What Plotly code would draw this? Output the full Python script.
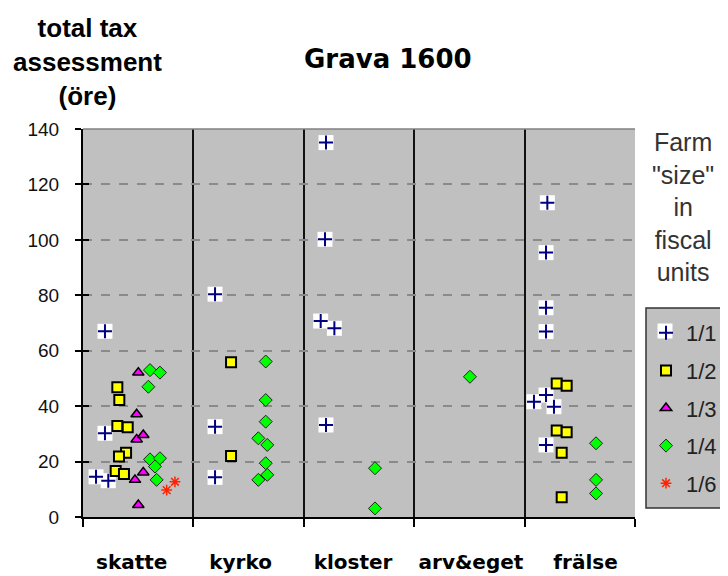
import plotly.graph_objects as go

# ---- data (x = category index + position within the category band) ----
categories = ["skatte", "kyrko", "kloster", "arv&eget", "frälse"]
label_pos = [0.441, 1.427, 2.446, 3.514, 4.552]
series_names = ["1/1", "1/2", "1/3", "1/4", "1/6"]

x_1_1 = [0.199, 0.199, 0.118, 0.229,
         1.196, 1.196, 1.196,
         2.201, 2.192, 2.153, 2.277, 2.201,
         4.206, 4.194, 4.194, 4.194, 4.194, 4.085, 4.266, 4.194]
y_1_1 = [67.0, 30.2, 14.5, 13.1,
         80.4, 32.6, 14.3,
         135.1, 100.2, 70.7, 68.1, 33.2,
         113.4, 95.4, 75.5, 66.9, 44.0, 41.6, 39.8, 26.0]

x_1_2 = [0.311, 0.329, 0.311, 0.405, 0.390, 0.326, 0.296, 0.371,
         1.341, 1.341,
         4.291, 4.381, 4.291, 4.381, 4.336, 4.336]
y_1_2 = [46.8, 42.2, 32.8, 32.4, 23.2, 21.8, 16.6, 15.5,
         55.8, 22.0,
         48.2, 47.4, 31.2, 30.6, 23.2, 7.1]

x_1_3 = [0.501, 0.486, 0.486, 0.546, 0.546, 0.471, 0.501]
y_1_3 = [52.1, 37.1, 28.0, 29.6, 16.1, 13.4, 4.3]

x_1_4 = [0.607, 0.697, 0.592, 0.607, 0.697, 0.652, 0.667,
         1.655, 1.655, 1.655, 1.588, 1.669, 1.655, 1.669, 1.588,
         2.645, 2.645,
         3.505,
         4.647, 4.647, 4.647]
y_1_4 = [53.0, 52.1, 47.0, 20.8, 21.2, 18.2, 13.4,
         56.1, 42.2, 34.4, 28.4, 26.0, 19.4, 15.2, 13.4,
         17.6, 3.1,
         50.6,
         26.6, 13.4, 8.5]

x_1_6 = [0.833, 0.758]
y_1_6 = [12.7, 9.7]

y_ticks = [0, 20, 40, 60, 80, 100, 120, 140]

# ---- layout geometry (page pixels; the page body has an 8px margin) ----
OFF = 8
W, H = 728 - OFF, 576 - OFF
L, R, T, B = 83, 635, 129, 517   # plot area in page pixels


def px(xp):
    return (xp - L) / (R - L)


def py(yp):
    return (B - yp) / (B - T)


fig = go.Figure()

# white boxes behind the 1/1 crosses
fig.add_trace(go.Scatter(x=x_1_1, y=y_1_1, mode="markers", showlegend=False,
                         hoverinfo="skip",
                         marker=dict(symbol="square", size=15, color="white",
                                     line=dict(width=0))))
fig.add_trace(go.Scatter(x=x_1_1, y=y_1_1, mode="markers", name=series_names[0],
                         legendgroup="a",
                         marker=dict(symbol="cross-thin", size=10,
                                     line=dict(color="#000080", width=2))))
fig.add_trace(go.Scatter(x=x_1_2, y=y_1_2, mode="markers", name=series_names[1],
                         legendgroup="b",
                         marker=dict(symbol="square", size=10, color="#ffff00",
                                     line=dict(color="black", width=2))))
fig.add_trace(go.Scatter(x=x_1_3, y=y_1_3, mode="markers", name=series_names[2],
                         legendgroup="c",
                         marker=dict(symbol="triangle-up", size=10, color="#ff00ff",
                                     line=dict(color="black", width=1.5))))
fig.add_trace(go.Scatter(x=x_1_4, y=y_1_4, mode="markers", name=series_names[3],
                         legendgroup="d",
                         marker=dict(symbol="diamond", size=10, color="#00ff00",
                                     line=dict(color="#222222", width=1))))
fig.add_trace(go.Scatter(x=x_1_6, y=y_1_6, mode="markers", name=series_names[4],
                         legendgroup="e",
                         marker=dict(symbol="asterisk", size=9,
                                     line=dict(color="#ff2200", width=1.5))))
# empty trace so the overlay axis (inner tick marks) is drawn
fig.add_trace(go.Scatter(x=[], y=[], yaxis="y2", showlegend=False,
                         hoverinfo="skip"))

shapes = [
    # top border of plot area
    dict(type="line", xref="paper", yref="paper", x0=0, x1=1, y0=1, y1=1,
         line=dict(color="#808080", width=1.5)),
    # legend box
    dict(type="rect", xref="paper", yref="paper", x0=px(646), x1=px(760),
         y0=py(508), y1=py(308), fillcolor="#c0c0c0",
         line=dict(color="#333333", width=1.5), layer="below"),
    # white key box for 1/1
    dict(type="rect", xref="paper", yref="paper", x0=px(657.5), x1=px(672.5),
         y0=py(338.5), y1=py(323.5), fillcolor="white",
         line=dict(width=0), layer="below"),
]

annotations = [
    dict(text="<b>Grava 1600</b>", x=px(387.5), y=py(59), xref="paper", yref="paper",
         showarrow=False, xanchor="center", yanchor="middle",
         font=dict(family="DejaVu Sans", size=26, color="black")),
    dict(text="<b>total tax<br>assessment<br>(öre)</b>", x=px(87), y=py(62),
         xref="paper", yref="paper", showarrow=False, xanchor="center",
         yanchor="middle", align="center",
         font=dict(family="Liberation Sans", size=26, color="black")),
    dict(text='Farm<br>"size"<br>in<br>fiscal<br>units', x=px(683), y=py(207),
         xref="paper", yref="paper", showarrow=False, xanchor="center",
         yanchor="middle", align="center",
         font=dict(family="Liberation Sans", size=25, color="#333333")),
]

fig.update_layout(
    width=W, height=H,
    margin=dict(l=L - OFF, r=728 - R, t=T - OFF, b=576 - B, pad=0,
                autoexpand=False),
    paper_bgcolor="white", plot_bgcolor="#c0c0c0",
    showlegend=True,
    legend=dict(x=px(646), xanchor="left", y=py(312), yanchor="top",
                bgcolor="rgba(0,0,0,0)", borderwidth=0,
                font=dict(family="Liberation Sans", size=22, color="#222222"),
                tracegroupgap=6),
    shapes=shapes, annotations=annotations,
    xaxis=dict(range=[0, 5], tickvals=label_pos, ticktext=categories,
               ticks="", showgrid=False, zeroline=False,
               showline=True, linecolor="black", linewidth=2,
               tickfont=dict(family="DejaVu Sans", size=20, color="black",
                             weight="bold"),
               ticklabelstandoff=26,
               minor=dict(tickvals=[0, 1, 2, 3, 4, 5], showgrid=True,
                          gridcolor="#111111", gridwidth=2, ticks="outside",
                          ticklen=8, tickwidth=2, tickcolor="black")),
    yaxis=dict(range=[0, 140], tickvals=y_ticks, ticks="outside", ticklen=6,
               tickwidth=2, tickcolor="black",
               showgrid=True, gridcolor="#8a8a8a", griddash="dash", gridwidth=1.5,
               zeroline=False, showline=True, linecolor="black", linewidth=2,
               tickfont=dict(family="Liberation Sans", size=19, color="#111111"),
               ticklabelstandoff=12),
    yaxis2=dict(range=[0, 140], tickvals=y_ticks, overlaying="y", side="left",
                anchor="x", ticks="inside", ticklen=6, tickwidth=2,
                tickcolor="black", showticklabels=False, showgrid=False,
                zeroline=False, showline=False),
)

fig.write_html("out.html")
